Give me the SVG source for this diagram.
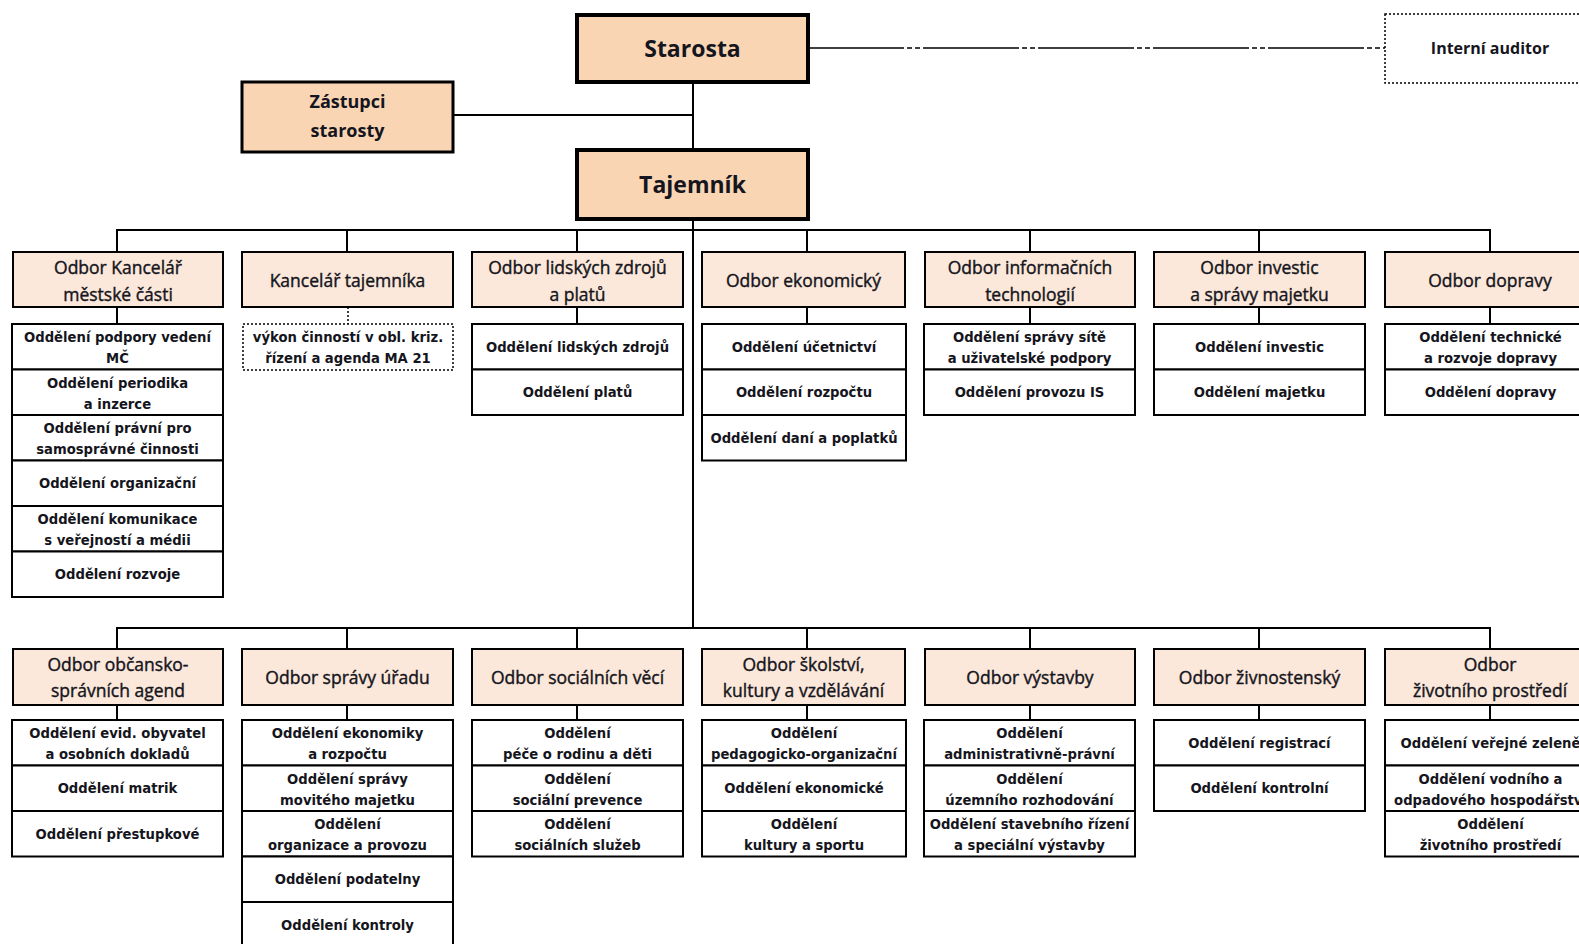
<svg xmlns="http://www.w3.org/2000/svg" width="1579" height="944" viewBox="0 0 1579 944">
<style>
.top{fill:#FAD5B4;stroke:#000;stroke-width:4}
.zas{fill:#FAD5B4;stroke:#000;stroke-width:3}
.hdr{fill:#FCE8DA;stroke:#000;stroke-width:2}
.sub{fill:#fff;stroke:#000;stroke-width:2}
.dot{fill:#fff;stroke:#000;stroke-width:1.5;stroke-dasharray:2 2}
.ln{stroke:#000;stroke-width:2;fill:none}
text{text-anchor:middle;fill:#151520}
.bt{font-family:"Open Sans","Liberation Sans",sans-serif;font-weight:bold;font-size:23px}
.zt{font-family:"Open Sans","Liberation Sans",sans-serif;font-weight:bold;font-size:18px}
.at{font-family:"Open Sans","Liberation Sans",sans-serif;font-weight:bold;font-size:16px}
.ht{font-family:"Open Sans","Liberation Sans",sans-serif;font-size:17.5px;stroke:#151520;stroke-width:0.4}
.st{font-family:"DejaVu Sans","Liberation Sans",sans-serif;font-weight:bold;font-size:13.2px}
</style>
<rect width="1579" height="944" fill="#fff"/>
<g id="connectors">
<line class="ln" x1="693" y1="82" x2="693" y2="628"/>
<line class="ln" x1="453" y1="115" x2="693" y2="115"/>
<line x1="808" y1="48" x2="1385" y2="48" stroke="#000" stroke-width="1.5" stroke-dasharray="96 3 5 3 5 3"/>
<polyline class="ln" points="117,252 117,230 1490,230 1490,252"/>
<line class="ln" x1="347" y1="230" x2="347" y2="252"/>
<line class="ln" x1="577" y1="230" x2="577" y2="252"/>
<line class="ln" x1="807" y1="230" x2="807" y2="252"/>
<line class="ln" x1="1030" y1="230" x2="1030" y2="252"/>
<line class="ln" x1="1259" y1="230" x2="1259" y2="252"/>
<line class="ln" x1="117" y1="307" x2="117" y2="324"/>
<line x1="348" y1="307" x2="348" y2="324" stroke="#000" stroke-width="1.5" stroke-dasharray="2 2"/>
<line class="ln" x1="577" y1="307" x2="577" y2="324"/>
<line class="ln" x1="807" y1="307" x2="807" y2="324"/>
<line class="ln" x1="1030" y1="307" x2="1030" y2="324"/>
<line class="ln" x1="1259" y1="307" x2="1259" y2="324"/>
<line class="ln" x1="1490" y1="307" x2="1490" y2="324"/>
<polyline class="ln" points="117,649 117,628 1490,628 1490,649"/>
<line class="ln" x1="347" y1="628" x2="347" y2="649"/>
<line class="ln" x1="577" y1="628" x2="577" y2="649"/>
<line class="ln" x1="807" y1="628" x2="807" y2="649"/>
<line class="ln" x1="1030" y1="628" x2="1030" y2="649"/>
<line class="ln" x1="1259" y1="628" x2="1259" y2="649"/>
<line class="ln" x1="117" y1="705" x2="117" y2="720"/>
<line class="ln" x1="347" y1="705" x2="347" y2="720"/>
<line class="ln" x1="577" y1="705" x2="577" y2="720"/>
<line class="ln" x1="807" y1="705" x2="807" y2="720"/>
<line class="ln" x1="1030" y1="705" x2="1030" y2="720"/>
<line class="ln" x1="1259" y1="705" x2="1259" y2="720"/>
<line class="ln" x1="1490" y1="705" x2="1490" y2="720"/>
</g>
<g id="starosta"><rect class="top" x="577" y="15" width="231" height="67"/><text class="bt" x="692.5" y="57">Starosta</text></g>
<g id="zastupci"><rect class="zas" x="242" y="82" width="211" height="70"/><text class="zt" x="347.5" y="108">Zástupci</text><text class="zt" x="347.5" y="137">starosty</text></g>
<g id="tajemnik"><rect class="top" x="577" y="150" width="231" height="69"/><text class="bt" x="692.5" y="193">Tajemník</text></g>
<g id="auditor"><rect class="dot" x="1385" y="14" width="220" height="69"/><text class="at" x="1490" y="54">Interní auditor</text></g>

<g id="odbor-kancelar"><rect class="hdr" x="13" y="252" width="210" height="55"/><text class="ht" x="118" y="274">Odbor Kancelář</text><text class="ht" x="118" y="301">městské části</text></g>
<g id="kancelar-tajemnika"><rect class="hdr" x="242" y="252" width="211" height="55"/><text class="ht" x="347.5" y="287">Kancelář tajemníka</text></g>
<g id="odbor-lidskych"><rect class="hdr" x="472" y="252" width="211" height="55"/><text class="ht" x="577.5" y="274">Odbor lidských zdrojů</text><text class="ht" x="577.5" y="301">a platů</text></g>
<g id="odbor-ekonomicky"><rect class="hdr" x="702" y="252" width="203" height="55"/><text class="ht" x="803.5" y="287">Odbor ekonomický</text></g>
<g id="odbor-it"><rect class="hdr" x="925" y="252" width="210" height="55"/><text class="ht" x="1030" y="274">Odbor informačních</text><text class="ht" x="1030" y="301">technologií</text></g>
<g id="odbor-investic"><rect class="hdr" x="1154" y="252" width="211" height="55"/><text class="ht" x="1259.5" y="274">Odbor investic</text><text class="ht" x="1259.5" y="301">a správy majetku</text></g>
<g id="odbor-dopravy"><rect class="hdr" x="1385" y="252" width="211" height="55"/><text class="ht" x="1490" y="287">Odbor dopravy</text></g>

<g id="sub-kancelar">
<rect class="sub" x="12" y="324" width="211" height="45.5"/><text class="st" x="117.5" y="342">Oddělení podpory vedení</text><text class="st" x="117.5" y="363">MČ</text>
<rect class="sub" x="12" y="369.5" width="211" height="45.5"/><text class="st" x="117.5" y="387.5">Oddělení periodika</text><text class="st" x="117.5" y="408.5">a inzerce</text>
<rect class="sub" x="12" y="415" width="211" height="45.5"/><text class="st" x="117.5" y="433">Oddělení právní pro</text><text class="st" x="117.5" y="454">samosprávné činnosti</text>
<rect class="sub" x="12" y="460.5" width="211" height="45.5"/><text class="st" x="117.5" y="488">Oddělení organizační</text>
<rect class="sub" x="12" y="506" width="211" height="45.5"/><text class="st" x="117.5" y="524">Oddělení komunikace</text><text class="st" x="117.5" y="545">s veřejností a médii</text>
<rect class="sub" x="12" y="551.5" width="211" height="45.5"/><text class="st" x="117.5" y="579">Oddělení rozvoje</text>
</g>
<g id="sub-kancelar-tajemnika">
<rect class="dot" x="243" y="324" width="210" height="46"/><text class="st" x="348" y="342">výkon činností v obl. kriz.</text><text class="st" x="348" y="363">řízení a agenda MA 21</text>
</g>
<g id="sub-lidskych">
<rect class="sub" x="472" y="324" width="211" height="45.5"/><text class="st" x="577.5" y="351.5">Oddělení lidských zdrojů</text>
<rect class="sub" x="472" y="369.5" width="211" height="45.5"/><text class="st" x="577.5" y="397">Oddělení platů</text>
</g>
<g id="sub-ekonomicky">
<rect class="sub" x="702" y="324" width="204" height="45.5"/><text class="st" x="804" y="351.5">Oddělení účetnictví</text>
<rect class="sub" x="702" y="369.5" width="204" height="45.5"/><text class="st" x="804" y="397">Oddělení rozpočtu</text>
<rect class="sub" x="702" y="415" width="204" height="45.5"/><text class="st" x="804" y="442.5">Oddělení daní a poplatků</text>
</g>
<g id="sub-it">
<rect class="sub" x="924" y="324" width="211" height="45.5"/><text class="st" x="1029.5" y="342">Oddělení správy sítě</text><text class="st" x="1029.5" y="363">a uživatelské podpory</text>
<rect class="sub" x="924" y="369.5" width="211" height="45.5"/><text class="st" x="1029.5" y="397">Oddělení provozu IS</text>
</g>
<g id="sub-investic">
<rect class="sub" x="1154" y="324" width="211" height="45.5"/><text class="st" x="1259.5" y="351.5">Oddělení investic</text>
<rect class="sub" x="1154" y="369.5" width="211" height="45.5"/><text class="st" x="1259.5" y="397">Oddělení majetku</text>
</g>
<g id="sub-dopravy">
<rect class="sub" x="1385" y="324" width="211" height="45.5"/><text class="st" x="1490.5" y="342">Oddělení technické</text><text class="st" x="1490.5" y="363">a rozvoje dopravy</text>
<rect class="sub" x="1385" y="369.5" width="211" height="45.5"/><text class="st" x="1490.5" y="397">Oddělení dopravy</text>
</g>

<g id="odbor-obcansko"><rect class="hdr" x="13" y="649" width="210" height="56"/><text class="ht" x="118" y="671">Odbor občansko-</text><text class="ht" x="118" y="697">správních agend</text></g>
<g id="odbor-spravy-uradu"><rect class="hdr" x="242" y="649" width="211" height="56"/><text class="ht" x="347.5" y="684">Odbor správy úřadu</text></g>
<g id="odbor-socialnich"><rect class="hdr" x="472" y="649" width="211" height="56"/><text class="ht" x="577.5" y="684">Odbor sociálních věcí</text></g>
<g id="odbor-skolstvi"><rect class="hdr" x="702" y="649" width="203" height="56"/><text class="ht" x="803.5" y="671">Odbor školství,</text><text class="ht" x="803.5" y="697">kultury a vzdělávání</text></g>
<g id="odbor-vystavby"><rect class="hdr" x="925" y="649" width="210" height="56"/><text class="ht" x="1030" y="684">Odbor výstavby</text></g>
<g id="odbor-zivnostensky"><rect class="hdr" x="1154" y="649" width="211" height="56"/><text class="ht" x="1259.5" y="684">Odbor živnostenský</text></g>
<g id="odbor-zp"><rect class="hdr" x="1385" y="649" width="211" height="56"/><text class="ht" x="1490" y="671">Odbor</text><text class="ht" x="1490" y="697">životního prostředí</text></g>

<g id="sub-obcansko">
<rect class="sub" x="12" y="720" width="211" height="45.5"/><text class="st" x="117.5" y="738">Oddělení evid. obyvatel</text><text class="st" x="117.5" y="759">a osobních dokladů</text>
<rect class="sub" x="12" y="765.5" width="211" height="45.5"/><text class="st" x="117.5" y="793">Oddělení matrik</text>
<rect class="sub" x="12" y="811" width="211" height="45.5"/><text class="st" x="117.5" y="838.5">Oddělení přestupkové</text>
</g>
<g id="sub-spravy-uradu">
<rect class="sub" x="242" y="720" width="211" height="45.5"/><text class="st" x="347.5" y="738">Oddělení ekonomiky</text><text class="st" x="347.5" y="759">a rozpočtu</text>
<rect class="sub" x="242" y="765.5" width="211" height="45.5"/><text class="st" x="347.5" y="783.5">Oddělení správy</text><text class="st" x="347.5" y="804.5">movitého majetku</text>
<rect class="sub" x="242" y="811" width="211" height="45.5"/><text class="st" x="347.5" y="829">Oddělení</text><text class="st" x="347.5" y="850">organizace a provozu</text>
<rect class="sub" x="242" y="856.5" width="211" height="45.5"/><text class="st" x="347.5" y="884">Oddělení podatelny</text>
<rect class="sub" x="242" y="902" width="211" height="50"/><text class="st" x="347.5" y="929.5">Oddělení kontroly</text>
</g>
<g id="sub-socialnich">
<rect class="sub" x="472" y="720" width="211" height="45.5"/><text class="st" x="577.5" y="738">Oddělení</text><text class="st" x="577.5" y="759">péče o rodinu a děti</text>
<rect class="sub" x="472" y="765.5" width="211" height="45.5"/><text class="st" x="577.5" y="783.5">Oddělení</text><text class="st" x="577.5" y="804.5">sociální prevence</text>
<rect class="sub" x="472" y="811" width="211" height="45.5"/><text class="st" x="577.5" y="829">Oddělení</text><text class="st" x="577.5" y="850">sociálních služeb</text>
</g>
<g id="sub-skolstvi">
<rect class="sub" x="702" y="720" width="204" height="45.5"/><text class="st" x="804" y="738">Oddělení</text><text class="st" x="804" y="759">pedagogicko-organizační</text>
<rect class="sub" x="702" y="765.5" width="204" height="45.5"/><text class="st" x="804" y="793">Oddělení ekonomické</text>
<rect class="sub" x="702" y="811" width="204" height="45.5"/><text class="st" x="804" y="829">Oddělení</text><text class="st" x="804" y="850">kultury a sportu</text>
</g>
<g id="sub-vystavby">
<rect class="sub" x="924" y="720" width="211" height="45.5"/><text class="st" x="1029.5" y="738">Oddělení</text><text class="st" x="1029.5" y="759">administrativně-právní</text>
<rect class="sub" x="924" y="765.5" width="211" height="45.5"/><text class="st" x="1029.5" y="783.5">Oddělení</text><text class="st" x="1029.5" y="804.5">územního rozhodování</text>
<rect class="sub" x="924" y="811" width="211" height="45.5"/><text class="st" x="1029.5" y="829">Oddělení stavebního řízení</text><text class="st" x="1029.5" y="850">a speciální výstavby</text>
</g>
<g id="sub-zivnostensky">
<rect class="sub" x="1154" y="720" width="211" height="45.5"/><text class="st" x="1259.5" y="747.5">Oddělení registrací</text>
<rect class="sub" x="1154" y="765.5" width="211" height="45.5"/><text class="st" x="1259.5" y="793">Oddělení kontrolní</text>
</g>
<g id="sub-zp">
<rect class="sub" x="1385" y="720" width="211" height="45.5"/><text class="st" x="1490.5" y="747.5">Oddělení veřejné zeleně</text>
<rect class="sub" x="1385" y="765.5" width="211" height="45.5"/><text class="st" x="1490.5" y="783.5">Oddělení vodního a</text><text class="st" x="1490.5" y="804.5">odpadového hospodářství</text>
<rect class="sub" x="1385" y="811" width="211" height="45.5"/><text class="st" x="1490.5" y="829">Oddělení</text><text class="st" x="1490.5" y="850">životního prostředí</text>
</g>
</svg>
